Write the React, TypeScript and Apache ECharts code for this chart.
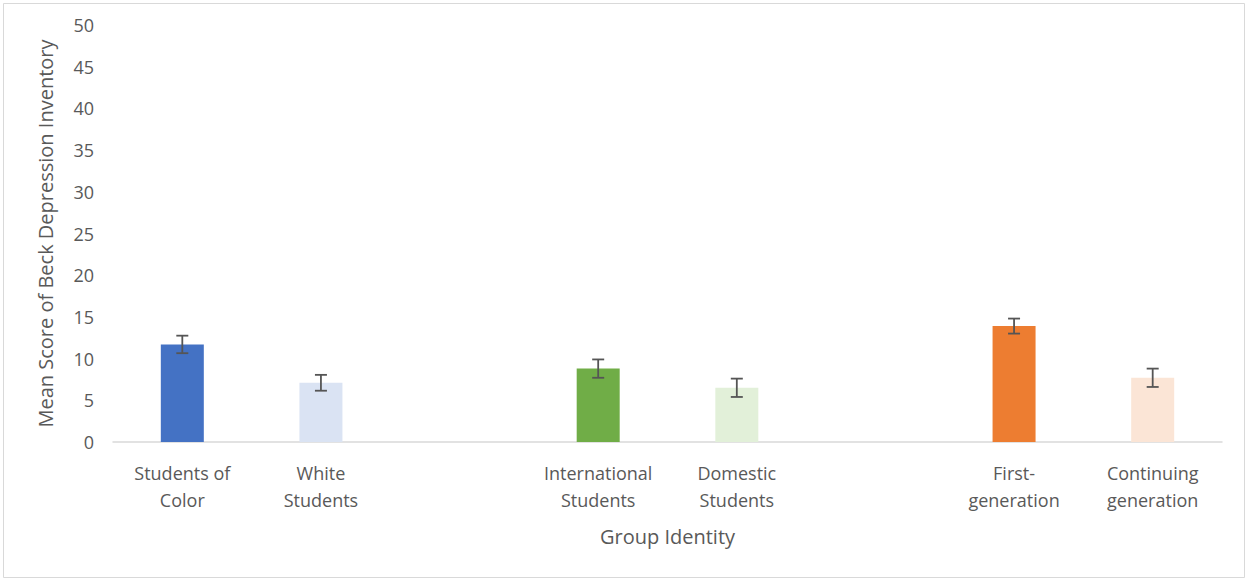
import React, { useEffect, useRef } from "react";
import * as echarts from "echarts";

const categories = [
  "Students of\nColor",
  "White\nStudents",
  "",
  "International\nStudents",
  "Domestic\nStudents",
  "",
  "First-\ngeneration",
  "Continuing\ngeneration",
];
const meanScores: (number | null)[] = [11.7, 7.1, null, 8.8, 6.5, null, 13.9, 7.7];
const errorMargins: (number | null)[] = [1.05, 0.95, null, 1.1, 1.1, null, 0.9, 1.1];
const barColors = ["#4472C4", "#DAE3F3", "#FFFFFF", "#70AD47", "#E2F0D9", "#FFFFFF", "#ED7D31", "#FBE5D6"];
const yTicks = { min: 0, max: 50, interval: 5 };
const yTitle = "Mean Score of Beck Depression Inventory";
const xTitle = "Group Identity";

const FONT = "Open Sans";
const TEXT = "#595959";

export default function App() {
  const ref = useRef<HTMLDivElement>(null);
  useEffect(() => {
    if (!ref.current) return;
    const chart = echarts.init(ref.current, undefined, { renderer: "svg" });
    const barData = meanScores.map((v, i) =>
      v == null ? null : { value: v, itemStyle: { color: barColors[i] } }
    );
    const errData: any[] = [];
    meanScores.forEach((v, i) => {
      const e = errorMargins[i];
      if (v != null && e != null) errData.push([i, v - e, v + e]);
    });
    chart.setOption({
      animation: false,
      backgroundColor: "#ffffff",
      graphic: [
        {
          type: "rect",
          shape: { x: 3.5, y: 3.5, width: 1241, height: 574 },
          style: { fill: "none", stroke: "#D9D9D9", lineWidth: 1 },
          silent: true,
        },
      ],
      grid: { left: 113, right: 26, top: 25, bottom: 139 },
      xAxis: {
        type: "category",
        data: categories,
        axisLine: { show: true, lineStyle: { color: "#D9D9D9", width: 1.5 } },
        axisTick: { show: false },
        axisLabel: {
          interval: 0,
          color: TEXT,
          fontFamily: FONT,
          fontSize: 18,
          lineHeight: 27,
          margin: 17,
        },
        name: xTitle,
        nameLocation: "middle",
        nameGap: 84,
        nameTextStyle: { color: TEXT, fontFamily: FONT, fontSize: 20 },
      },
      yAxis: {
        type: "value",
        min: yTicks.min,
        max: yTicks.max,
        interval: yTicks.interval,
        axisLine: { show: false },
        axisTick: { show: false },
        splitLine: { show: false },
        axisLabel: { color: TEXT, fontFamily: FONT, fontSize: 18, margin: 19 },
        name: yTitle,
        nameLocation: "middle",
        nameGap: 58,
        nameTextStyle: { color: TEXT, fontFamily: FONT, fontSize: 20 },
      },
      series: [
        {
          type: "bar",
          data: barData,
          barWidth: 43,
        },
        {
          type: "custom",
          data: errData,
          z: 10,
          renderItem: (params: any, api: any) => {
            const x = api.value(0);
            const lo = api.coord([x, api.value(1)]);
            const hi = api.coord([x, api.value(2)]);
            const half = 6;
            const style = { stroke: "#555555", lineWidth: 1.8 };
            return {
              type: "group",
              children: [
                { type: "line", shape: { x1: lo[0], y1: lo[1], x2: hi[0], y2: hi[1] }, style },
                { type: "line", shape: { x1: hi[0] - half, y1: hi[1], x2: hi[0] + half, y2: hi[1] }, style },
                { type: "line", shape: { x1: lo[0] - half, y1: lo[1], x2: lo[0] + half, y2: lo[1] }, style },
              ],
            };
          },
        },
      ],
    });
    return () => chart.dispose();
  }, []);
  return (
    <div
      ref={ref}
      style={{ position: "fixed", left: 0, top: 0, width: 1248, height: 581, background: "#fff" }}
    />
  );
}
